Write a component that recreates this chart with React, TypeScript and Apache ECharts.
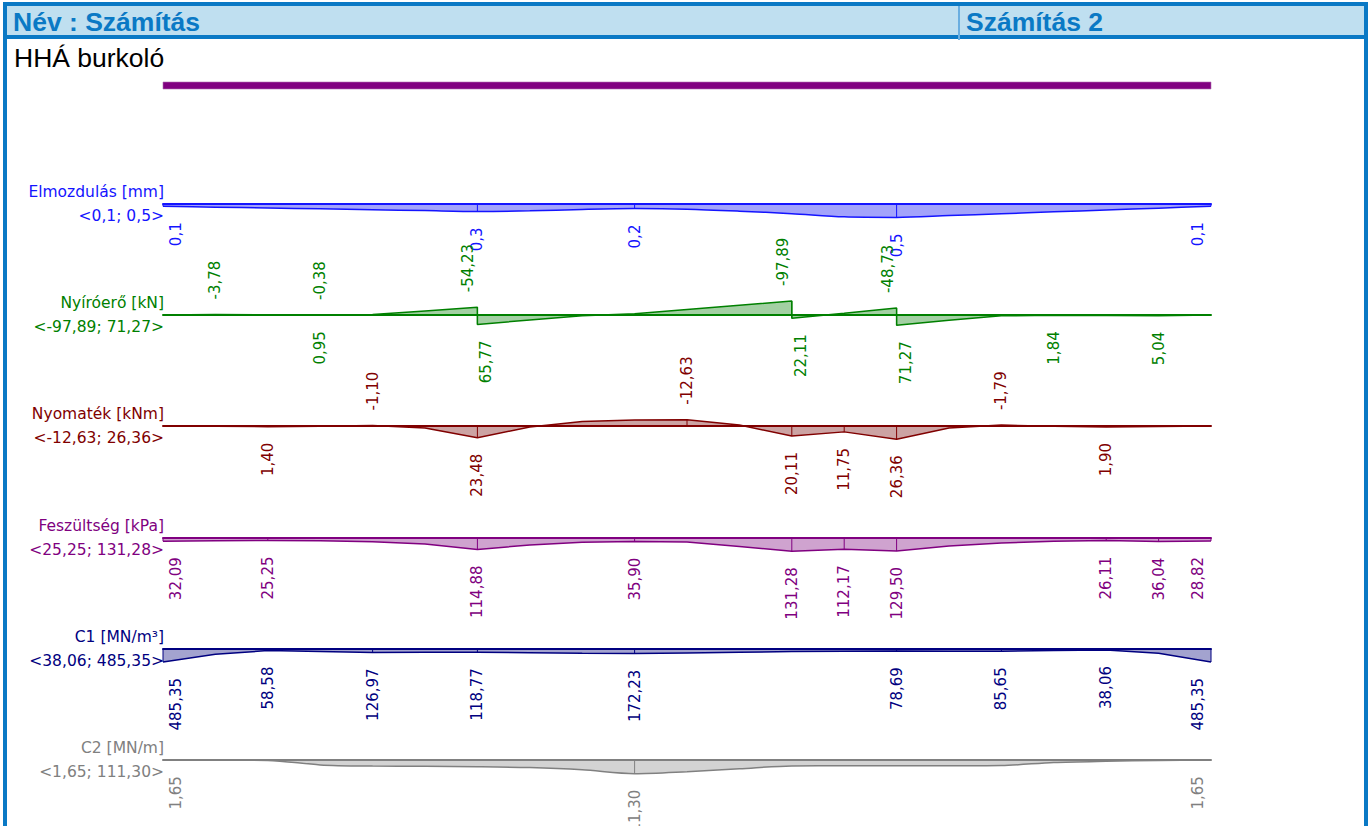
import React, { useEffect, useRef } from "react";
import * as echarts from "echarts";

// ---- data ----
const stations = [0, 1, 2, 3, 4, 5, 6, 7, 8, 9, 10, 11, 12, 13, 14, 15, 16, 17, 18, 19, 20];
const shearStations = [0, 1, 2, 3, 3, 4, 5, 6, 6, 7, 8, 9, 10, 11, 12, 12, 13, 14, 14, 15, 16, 17, 18, 19, 20];

const displacement = [0.08, 0.11, 0.14, 0.17, 0.2, 0.23, 0.26, 0.24, 0.19, 0.16, 0.18, 0.25, 0.34, 0.45, 0.47, 0.405, 0.34, 0.275, 0.21, 0.145, 0.08];
const shear = [0, -3.78, -1.5, -0.38, 0.95, -3, -28, -54.23, 65.77, 35, 5, -8, -38, -68, -97.89, 22.11, -12, -48.73, 71.27, 36, 6, 1.84, 3.5, 5.04, 0];
const moment = [0, 0.5, 1.4, 0.3, -1.1, 4, 23.48, 2, -9, -12, -12.63, -2, 20.11, 11.75, 26.36, 4, -1.79, 0.5, 1.9, 0.8, 0];
const stress = [32.09, 28, 25.25, 28, 37, 60, 114.88, 70, 42, 35.9, 40, 85, 131.28, 112.17, 129.5, 80, 50, 32, 26.11, 36.04, 28.82];
const c1 = [485.35, 200, 58.58, 90, 126.97, 125, 118.77, 140, 160, 172.23, 150, 120, 95, 85, 78.69, 82, 85.65, 60, 38.06, 160, 485.35];
const c2 = [1.65, 2, 4, 40, 50, 52, 55, 62, 80, 111.3, 95, 72, 48, 47, 47, 47, 45, 20, 10, 4, 1.65];

// indices of labelled points
const displacementLabels = [0, 6, 9, 14, 20];
const shearLabels = [1, 3, 4, 7, 8, 14, 15, 17, 18, 21, 23];
const momentLabels = [2, 4, 6, 10, 12, 13, 14, 16, 18];
const stressLabels = [0, 2, 6, 9, 12, 13, 14, 18, 19, 20];
const c1Labels = [0, 2, 4, 6, 9, 14, 16, 18, 20];
const c2Labels = [0, 9, 20];

const rowTitles = ["Elmozdulás [mm]", "Nyíróerő [kN]", "Nyomaték [kNm]", "Feszültség [kPa]", "C1 [MN/m³]", "C2 [MN/m]"];
const headerLeft = "Név : Számítás";
const headerRight = "Számítás 2";
const subTitle = "HHÁ burkoló";

// ---- styling / layout ----
const rows = [
  { title: rowTitles[0], xs: stations, ys: displacement, labels: displacementLabels, color: "#1414ff", fill: "#a3a3fb", baseline: 204, half: 1.05, decimals: 1, smooth: 0.3 },
  { title: rowTitles[1], xs: shearStations, ys: shear, labels: shearLabels, color: "#008000", fill: "#a3d0a3", baseline: 315, half: 210, decimals: 2, smooth: false },
  { title: rowTitles[2], xs: stations, ys: moment, labels: momentLabels, color: "#800000", fill: "#cca3a3", baseline: 426, half: 60, decimals: 2, smooth: false },
  { title: rowTitles[3], xs: stations, ys: stress, labels: stressLabels, color: "#800080", fill: "#cfa3cf", baseline: 538, half: 300, decimals: 2, smooth: false },
  { title: rowTitles[4], xs: stations, ys: c1, labels: c1Labels, color: "#000080", fill: "#a3a3cf", baseline: 649, half: 1120, decimals: 2, smooth: false },
  { title: rowTitles[5], xs: stations, ys: c2, labels: c2Labels, color: "#808080", fill: "#d3d3d3", baseline: 760, half: 245, decimals: 2, smooth: 0.3 },
];

const X0 = 163;
const X1 = 1211;
const GRID_H = 60;
const BLUE = "#0a79c5";
const FONT = "DejaVu Sans";

function fmt(v: number, d: number) {
  return v.toFixed(d).replace(".", ",");
}

function makeRender(r: any) {
  const xmin = Math.min(...r.xs);
  const xmax = Math.max(...r.xs);
  const pxPerUnit = GRID_H / (2 * r.half);
  return (params: any, api: any) => {
    const x = api.value(0);
    const v = api.value(1);
    const idx = api.value(2);
    const p = api.coord([x, v]);
    const p0 = api.coord([x, 0]);
    let lx = p[0];
    if (x === xmin) lx += 13;
    else if (x === xmax) lx -= 13;
    // discontinuity: separate left / right limit labels
    if (r.xs[idx + 1] === x && Math.abs(r.ys[idx + 1] - v) * pxPerUnit > 5) lx -= 9;
    if (r.xs[idx - 1] === x && Math.abs(r.ys[idx - 1] - v) * pxPerUnit > 5) lx += 9;
    const below = v >= 0;
    const ly = below ? p[1] + 16 : p[1] - 15;
    return {
      type: "group",
      children: [
        { type: "line", shape: { x1: p0[0], y1: p0[1], x2: p[0], y2: p[1] }, style: { stroke: r.color, lineWidth: 1 } },
        {
          type: "text",
          x: lx,
          y: ly,
          rotation: Math.PI / 2,
          style: {
            text: fmt(v, r.decimals),
            fill: r.color,
            fontSize: 15,
            fontFamily: FONT,
            align: below ? "right" : "left",
            verticalAlign: "middle",
          },
        },
      ],
    };
  };
}

export default function App() {
  const ref = useRef<HTMLDivElement>(null);
  useEffect(() => {
    if (!ref.current) return;
    const chart = echarts.init(ref.current, undefined, { renderer: "svg" });

    const grid = rows.map((r) => ({ left: X0, width: X1 - X0, top: r.baseline - GRID_H / 2, height: GRID_H, outerBoundsMode: "none" }));
    const xAxis = rows.map((r, k) => ({
      type: "value",
      gridIndex: k,
      min: 0,
      max: 20,
      z: 4,
      axisLine: { show: true, onZero: true, lineStyle: { color: r.color, width: 2 } },
      axisTick: { show: false },
      axisLabel: { show: false },
      splitLine: { show: false },
    }));
    const yAxis = rows.map((r, k) => ({ type: "value", gridIndex: k, min: -r.half, max: r.half, inverse: true, show: false, splitLine: { show: false } }));

    const series: any[] = [];
    rows.forEach((r, k) => {
      series.push({
        type: "line",
        xAxisIndex: k,
        yAxisIndex: k,
        data: r.xs.map((x, i) => [x, r.ys[i]]),
        showSymbol: false,
        symbol: "none",
        smooth: r.smooth,
        lineStyle: { color: r.color, width: 1.5 },
        areaStyle: { color: r.fill, opacity: 1 },
        z: 2,
        silent: true,
      });
      series.push({
        type: "custom",
        xAxisIndex: k,
        yAxisIndex: k,
        data: r.labels.map((i) => [r.xs[i], r.ys[i], i]),
        encode: { x: 0, y: 1 },
        renderItem: makeRender(r),
        clip: false,
        z: 3,
        silent: true,
      });
    });

    const graphic: any[] = [
      { type: "rect", shape: { x: 7, y: 6, width: 1358, height: 29 }, style: { fill: "#bfdff0" } },
      { type: "rect", shape: { x: 3, y: 2, width: 1365, height: 4 }, style: { fill: BLUE } },
      { type: "rect", shape: { x: 3, y: 35, width: 1365, height: 4 }, style: { fill: BLUE } },
      { type: "rect", shape: { x: 3, y: 2, width: 4, height: 830 }, style: { fill: BLUE } },
      { type: "rect", shape: { x: 1364, y: 2, width: 4, height: 830 }, style: { fill: BLUE } },
      { type: "rect", shape: { x: 958, y: 6, width: 2, height: 34 }, style: { fill: "#6aaee0" } },
      { type: "text", x: 13, y: 22, style: { text: headerLeft, fill: BLUE, fontSize: 26.5, fontWeight: "bold", fontFamily: "Liberation Sans", verticalAlign: "middle" } },
      { type: "text", x: 966, y: 22, style: { text: headerRight, fill: BLUE, fontSize: 26.5, fontWeight: "bold", fontFamily: "Liberation Sans", verticalAlign: "middle" } },
      { type: "text", x: 14, y: 58, style: { text: subTitle, fill: "#000000", fontSize: 26.5, fontFamily: "Liberation Sans", verticalAlign: "middle" } },
      { type: "rect", shape: { x: X0, y: 82, width: X1 - X0, height: 7 }, style: { fill: "#800080", stroke: "#b070b0", lineWidth: 0.6 } },
    ];
    rows.forEach((r) => {
      const lo = Math.min(...r.ys);
      const hi = Math.max(...r.ys);
      graphic.push({ type: "text", x: 164, y: r.baseline - 12, style: { text: r.title, fill: r.color, fontSize: 15.5, fontFamily: FONT, align: "right", verticalAlign: "middle" } });
      graphic.push({ type: "text", x: 164, y: r.baseline + 12, style: { text: "<" + fmt(lo, r.decimals) + "; " + fmt(hi, r.decimals) + ">", fill: r.color, fontSize: 15.5, fontFamily: FONT, align: "right", verticalAlign: "middle" } });
    });

    chart.setOption({
      animation: false,
      backgroundColor: "#ffffff",
      grid,
      xAxis,
      yAxis,
      series,
      graphic,
    });
    return () => chart.dispose();
  }, []);
  return <div ref={ref} style={{ position: "fixed", left: 0, top: 0, width: 1372, height: 826 }} />;
}
